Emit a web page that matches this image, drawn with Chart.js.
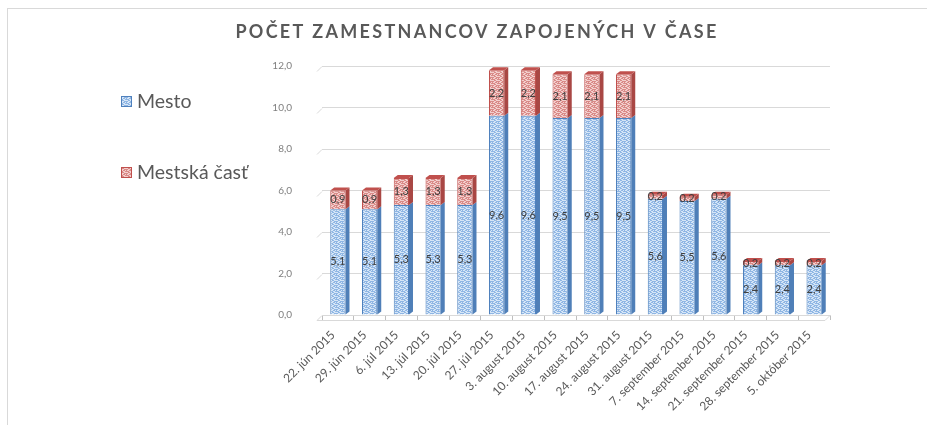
<!DOCTYPE html>
<html>
<head>
<meta charset="utf-8">
<script src="https://cdn.jsdelivr.net/npm/chart.js@4/dist/chart.umd.min.js"></script>
<style>
  html, body { margin: 0; padding: 0; background: #ffffff; }
  #wrap { position: relative; width: 927px; height: 425px; }
  #frame { position: absolute; left: 7px; top: 8px; right: -2px; bottom: -2px; border-left: 1px solid #d9d9d9; border-top: 1px solid #d9d9d9; }
  canvas { position: absolute; left: 0; top: 0; }
</style>
</head>
<body>
<div id="wrap">
  <div id="frame"></div>
  <canvas id="c" width="927" height="425"></canvas>
</div>
<script>
const categories = ["22. jún 2015", "29. jún 2015", "6. júl 2015", "13. júl 2015", "20. júl 2015", "27. júl 2015", "3. august 2015", "10. august 2015", "17. august 2015", "24. august 2015", "31. august 2015", "7. september 2015", "14. september 2015", "21. september 2015", "28. september 2015", "5. október 2015"];
const mesto = [5.1, 5.1, 5.3, 5.3, 5.3, 9.6, 9.6, 9.5, 9.5, 9.5, 5.6, 5.5, 5.6, 2.4, 2.4, 2.4];
const mestskaCast = [0.9, 0.9, 1.3, 1.3, 1.3, 2.2, 2.2, 2.1, 2.1, 2.1, 0.2, 0.2, 0.2, 0.2, 0.2, 0.2];
const seriesNames = ["Mesto", "Mestská časť"];
const yTicks = [0, 2, 4, 6, 8, 10, 12];
const titleText = "POČET ZAMESTNANCOV ZAPOJENÝCH V ČASE";

const canvas = document.getElementById('c');
const ctx = canvas.getContext('2d');
const FONT = 'Lato, "Liberation Sans", sans-serif';

function makePattern(base, light) {
  const p = document.createElement('canvas');
  p.width = 6; p.height = 4;
  const g = p.getContext('2d');
  g.fillStyle = base; g.fillRect(0, 0, 6, 4);
  g.fillStyle = light;
  g.fillRect(0, 0, 2, 1); g.fillRect(2, 1, 2, 1); g.fillRect(4, 0, 2, 1);
  g.fillRect(1, 2, 2, 1); g.fillRect(3, 3, 2, 1); g.fillRect(5, 2, 1, 1);
  return ctx.createPattern(p, 'repeat');
}
const bluePat = makePattern('#8fb6e4', '#d6e6f7');
const redPat = makePattern('#d98a88', '#f3cfcd');

const fmt = v => v.toFixed(1).replace('.', ',');

const threeD = {
  id: 'threeD',
  beforeDatasetsDraw(chart) {
    const c = chart.ctx, y = chart.scales.y, a = chart.chartArea;
    c.save();
    c.strokeStyle = '#d9d9d9'; c.lineWidth = 1;
    yTicks.forEach(t => {
      const py = Math.round(y.getPixelForValue(t)) + 0.5;
      c.beginPath(); c.moveTo(a.left - 5, py + 5); c.lineTo(a.left, py); c.stroke();
    });
    c.beginPath(); c.moveTo(a.right, a.bottom + 0.5); c.lineTo(a.right - 5, a.bottom + 5.5); c.lineTo(a.left - 5, a.bottom + 5.5); c.stroke();
    c.restore();
  },
  afterDatasetsDraw(chart) {
    const c = chart.ctx;
    const dx = 4, dy = 3;
    c.save();
    chart.data.datasets.forEach((ds, di) => {
      const meta = chart.getDatasetMeta(di);
      meta.data.forEach((el, i) => {
        const w = el.width, l = el.x - w / 2, r = el.x + w / 2;
        const top = el.y, bot = el.base;
        c.fillStyle = di === 0 ? '#4f7fb8' : '#a94744';
        c.beginPath(); c.moveTo(r, top); c.lineTo(r + dx, top - dy); c.lineTo(r + dx, bot - dy); c.lineTo(r, bot); c.closePath(); c.fill();
        if (di === chart.data.datasets.length - 1) {
          c.fillStyle = '#c0504d';
          c.beginPath(); c.moveTo(l, top); c.lineTo(l + dx, top - dy); c.lineTo(r + dx, top - dy); c.lineTo(r, top); c.closePath(); c.fill();
        }
      });
    });
    c.font = '11px ' + FONT;
    c.fillStyle = '#404040';
    c.textAlign = 'center'; c.textBaseline = 'middle';
    chart.data.datasets.forEach((ds, di) => {
      const meta = chart.getDatasetMeta(di);
      meta.data.forEach((el, i) => {
        c.fillText(fmt(ds.data[i]), el.x, (el.y + el.base) / 2);
      });
    });
    c.restore();
  },
  afterDraw(chart) {
    const c = chart.ctx;
    c.save();
    c.font = 'bold 18px ' + FONT;
    c.fillStyle = '#595959';
    c.textAlign = 'center'; c.textBaseline = 'middle';
    try { c.letterSpacing = '2.3px'; } catch (e) {}
    c.fillText(titleText, 477, 32);
    try { c.letterSpacing = '0px'; } catch (e) {}
    const items = [{ y: 101, pat: bluePat, border: '#4f81bd' }, { y: 172, pat: redPat, border: '#c0504d' }];
    c.font = '19.5px ' + FONT;
    c.textBaseline = 'middle'; c.textAlign = 'left';
    items.forEach((it, k) => {
      c.fillStyle = it.pat; c.fillRect(121, it.y - 5, 11, 11);
      c.strokeStyle = it.border; c.lineWidth = 1; c.strokeRect(121.5, it.y - 4.5, 10, 10);
      c.fillStyle = '#595959';
      c.fillText(seriesNames[k], 137, it.y + 1);
    });
    c.restore();
  }
};

new Chart(ctx, {
  type: 'bar',
  data: {
    labels: categories,
    datasets: [
      { label: seriesNames[0], data: mesto, backgroundColor: bluePat, borderColor: '#4f81bd', borderWidth: 1, barPercentage: 0.48, categoryPercentage: 1 },
      { label: seriesNames[1], data: mestskaCast, backgroundColor: redPat, borderColor: '#c0504d', borderWidth: 1, barPercentage: 0.48, categoryPercentage: 1 }
    ]
  },
  options: {
    responsive: false,
    animation: false,
    layout: { padding: { left: 250, right: 97, top: 66, bottom: 0 } },
    plugins: {
      legend: { display: false },
      tooltip: { enabled: false },
      title: { display: false }
    },
    scales: {
      x: {
        stacked: true,
        afterFit(s) { s.height = 110; },
        grid: { display: true, drawOnChartArea: false, drawTicks: true, tickLength: 5, color: '#bfbfbf', offset: true },
        border: { display: true, color: '#d9d9d9' },
        ticks: { color: '#595959', font: { family: FONT, size: 12 }, minRotation: 45, maxRotation: 45, padding: 8, labelOffset: -5, autoSkip: false }
      },
      y: {
        stacked: true, min: 0, max: 12,
        afterFit(s) { s.width = 72; },
        afterBuildTicks(s) { s.ticks = yTicks.map(v => ({ value: v })); },
        grid: { color: '#d9d9d9', drawTicks: false },
        border: { display: false },
        ticks: { color: '#7f7f7f', font: { family: FONT, size: 10 }, padding: 30, callback: v => fmt(v) }
      }
    }
  },
  plugins: [threeD]
});
</script>
</body>
</html>
